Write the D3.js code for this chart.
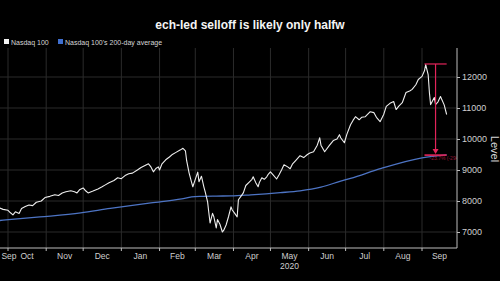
<!DOCTYPE html>
<html>
<head>
<meta charset="utf-8">
<script src="https://cdn.jsdelivr.net/npm/d3@7"></script>
<style>
  html, body { margin: 0; padding: 0; background: #000; }
  svg { display: block; font-family: "Liberation Sans", Arial, sans-serif; }
</style>
</head>
<body>
<div id="chart"></div>
<script>
var width = 500, height = 281;
var margin = {top: 48, right: 43, bottom: 33, left: 0};

// Nasdaq 100 (readings)
var ndxDates = ["2019-09-24","2019-09-27","2019-10-01","2019-10-03","2019-10-05","2019-10-07","2019-10-10",
  "2019-10-12","2019-10-15","2019-10-18","2019-10-21","2019-10-24","2019-10-28","2019-10-31","2019-11-04",
  "2019-11-08","2019-11-11","2019-11-14","2019-11-17","2019-11-21","2019-11-24","2019-11-26","2019-11-28",
  "2019-12-01","2019-12-03","2019-12-05","2019-12-09","2019-12-13","2019-12-16","2019-12-19","2019-12-22",
  "2019-12-26","2019-12-29","2020-01-01","2020-01-04","2020-01-07","2020-01-10","2020-01-14","2020-01-17",
  "2020-01-23","2020-01-25","2020-01-27","2020-01-29","2020-01-31","2020-02-01","2020-02-03","2020-02-06",
  "2020-02-09","2020-02-11","2020-02-14","2020-02-18","2020-02-20","2020-02-22","2020-02-23","2020-02-25",
  "2020-02-27","2020-02-28","2020-03-01","2020-03-03","2020-03-04","2020-03-06","2020-03-08","2020-03-09",
  "2020-03-11","2020-03-12","2020-03-13","2020-03-15","2020-03-16","2020-03-18","2020-03-19","2020-03-21",
  "2020-03-23","2020-03-24","2020-03-26","2020-03-28","2020-03-30","2020-03-31","2020-04-02","2020-04-04",
  "2020-04-05","2020-04-07","2020-04-09","2020-04-11","2020-04-14","2020-04-16","2020-04-17","2020-04-19",
  "2020-04-21","2020-04-22","2020-04-24","2020-04-26","2020-04-28","2020-04-29","2020-05-01","2020-05-03",
  "2020-05-06","2020-05-08","2020-05-10","2020-05-12","2020-05-15","2020-05-17","2020-05-19","2020-05-22",
  "2020-05-25","2020-05-28","2020-05-31","2020-06-02","2020-06-05","2020-06-08","2020-06-10","2020-06-11",
  "2020-06-14","2020-06-18","2020-06-21","2020-06-24","2020-06-26","2020-06-27","2020-06-30","2020-07-02",
  "2020-07-05","2020-07-07","2020-07-09","2020-07-12","2020-07-14","2020-07-17","2020-07-21","2020-07-24",
  "2020-07-26","2020-07-29","2020-08-01","2020-08-03","2020-08-06","2020-08-09","2020-08-11","2020-08-13",
  "2020-08-16","2020-08-19","2020-08-22","2020-08-24","2020-08-27","2020-08-29","2020-09-01","2020-09-03",
  "2020-09-04","2020-09-06","2020-09-07","2020-09-08","2020-09-11","2020-09-12","2020-09-14","2020-09-16",
  "2020-09-19","2020-09-21"];
var ndxValues = [7780,7730,7700,7620,7550,7650,7600,
  7760,7820,7870,7850,7960,8000,8110,8150,
  8200,8180,8260,8300,8330,8300,8260,8360,
  8420,8330,8260,8320,8390,8450,8520,8590,
  8660,8750,8720,8820,8880,8900,9000,9080,
  9200,9100,8940,9050,9100,9000,9200,9330,
  9420,9490,9560,9650,9700,9620,9300,8900,
  8600,8460,8700,8930,8620,8800,8450,8300,
  7970,7620,7290,7600,7500,7130,7400,7250,
  7000,7050,7225,7500,7810,7710,7600,7490,
  8040,8150,8260,8500,8620,8700,8780,8600,
  8460,8600,8750,8700,8780,8850,8940,8850,
  8710,8850,9000,9170,9100,9040,9200,9330,
  9460,9400,9500,9550,9590,9800,10040,9800,
  9590,9800,9950,10000,10140,10040,9880,10150,
  10460,10600,10720,10620,10700,10720,10880,10850,
  10700,10560,10800,11050,11150,11210,10950,11050,
  11170,11500,11550,11600,11750,11920,12020,12200,
  12400,12080,11500,11110,11340,11110,11200,11370,
  11100,10790];

// 200-day moving average
var maDates = ["2019-09-24","2019-10-27","2019-11-29","2019-12-23","2020-01-01","2020-01-25","2020-02-19",
  "2020-02-27","2020-03-06","2020-03-18","2020-03-30","2020-04-15","2020-05-09","2020-05-25","2020-06-11",
  "2020-06-27","2020-07-05","2020-07-30","2020-09-01","2020-09-21"];
var maValues = [7370,7485,7615,7760,7810,7940,8070,
  8130,8150,8160,8165,8200,8270,8330,8450,
  8640,8730,9050,9390,9490];

var yTicks = [7000, 8000, 9000, 10000, 11000, 12000];
var monthLabels = ["Sep","Oct","Nov","Dec","Jan","Feb","Mar","Apr","May","Jun","Jul","Aug","Sep"];
var yearLabel = "2020";

// peak-to-average annotation
var annotDates = ["2020-09-03", "2020-09-12", "2020-09-21"];
var annotValues = [12420, 9480];
var annotText = "-23.7% (-2940)";

var parse = d3.timeParse("%Y-%m-%d");
var ndx = ndxDates.map((d, i) => ({date: parse(d), value: ndxValues[i]}));
var ma = maDates.map((d, i) => ({date: parse(d), value: maValues[i]}));

var svg = d3.select("#chart").append("svg")
  .attr("width", width).attr("height", height);

svg.append("rect").attr("width", width).attr("height", height).attr("fill", "#000");

var plotW = width - margin.left - margin.right,
    plotH = height - margin.top - margin.bottom;

// calibrated so Oct 1 2019 and Sep 1 2020 land on their gridlines
var x = d3.scaleTime()
  .domain([new Date(2019, 9, 1), new Date(2020, 8, 1)])
  .range([8, 422]);
var y = d3.scaleLinear()
  .domain([7000, 12000])
  .range([232, 77]);

var x0 = x.invert(margin.left), x1 = x.invert(margin.left + plotW);

svg.append("clipPath").attr("id", "clip")
  .append("rect").attr("x", margin.left).attr("y", margin.top)
  .attr("width", plotW).attr("height", plotH);

var g = svg.append("g");

// gridlines
var months = d3.timeMonth.range(d3.timeMonth.ceil(x0), x1);
g.selectAll(".vgrid").data(months).enter().append("line")
  .attr("x1", d => x(d)).attr("x2", d => x(d))
  .attr("y1", margin.top).attr("y2", margin.top + plotH)
  .attr("stroke", "#2b2b2b").attr("stroke-width", 1);
g.selectAll(".hgrid").data(yTicks).enter().append("line")
  .attr("x1", margin.left).attr("x2", margin.left + plotW)
  .attr("y1", d => y(d)).attr("y2", d => y(d))
  .attr("stroke", "#2b2b2b").attr("stroke-width", 1);

var line = d3.line().x(d => x(d.date)).y(d => y(d.value));

var lines = g.append("g").attr("clip-path", "url(#clip)");
lines.append("path").datum(ma)
  .attr("d", line.curve(d3.curveMonotoneX))
  .attr("fill", "none").attr("stroke", "#4d74c4").attr("stroke-width", 1.3);
lines.append("path").datum(ndx)
  .attr("d", line.curve(d3.curveLinear))
  .attr("fill", "none").attr("stroke", "#eeeeee").attr("stroke-width", 1.1)
  .attr("stroke-linejoin", "round");

// annotation
var red = "#e3245a";
var aL = x(parse(annotDates[0])), aM = x(parse(annotDates[1])), aR = x(parse(annotDates[2]));
var yTop = y(annotValues[0]), yBot = y(annotValues[1]);
var ann = g.append("g").attr("clip-path", "url(#clip)");
ann.append("line").attr("x1", aL).attr("x2", aR).attr("y1", yTop).attr("y2", yTop)
  .attr("stroke", red).attr("stroke-width", 1.2);
ann.append("line").attr("x1", aM).attr("x2", aM).attr("y1", yTop).attr("y2", yBot - 4)
  .attr("stroke", red).attr("stroke-width", 1.2);
ann.append("path")
  .attr("d", `M${aM - 3},${yBot - 6}L${aM + 3},${yBot - 6}L${aM},${yBot - 1}Z`)
  .attr("fill", red);
ann.append("line").attr("x1", aL).attr("x2", aR).attr("y1", yBot).attr("y2", yBot)
  .attr("stroke", red).attr("stroke-width", 1.8).attr("opacity", 0.9);
ann.append("text").attr("x", aM - 6).attr("y", yBot + 5)
  .attr("fill", red).attr("opacity", 0.6).style("font-size", "5px")
  .text(annotText);

// axes
var axisColor = "#bdbdbd";
g.append("line").attr("x1", margin.left).attr("x2", margin.left + plotW)
  .attr("y1", margin.top + plotH).attr("y2", margin.top + plotH)
  .attr("stroke", axisColor).attr("stroke-width", 1);
g.append("line").attr("x1", margin.left + plotW).attr("x2", margin.left + plotW)
  .attr("y1", margin.top).attr("y2", margin.top + plotH)
  .attr("stroke", axisColor).attr("stroke-width", 1);

g.selectAll(".xtick").data(months).enter().append("line")
  .attr("x1", d => x(d)).attr("x2", d => x(d))
  .attr("y1", margin.top + plotH).attr("y2", margin.top + plotH + 3)
  .attr("stroke", axisColor);

var yAxis = d3.axisRight(y).tickValues(yTicks).tickSize(3).tickPadding(2).tickFormat(d3.format("d"));
var ya = g.append("g").attr("transform", `translate(${margin.left + plotW},0)`).call(yAxis);
ya.select(".domain").remove();
ya.selectAll("line").attr("stroke", axisColor);
ya.selectAll("text").attr("fill", "#cfcfcf").style("font-size", "9px")
  .style("font-family", "Liberation Sans, Arial, sans-serif");

svg.append("text")
  .attr("transform", `translate(${width - 9},${y(10000) + 10}) rotate(90)`)
  .attr("text-anchor", "middle").attr("fill", "#d8d8d8")
  .style("font-size", "11px").text("Level");

// month labels centred on the visible part of each month
var monthStarts = [d3.timeMonth.floor(x0)].concat(months);
var labelData = monthStarts.map((m, i) => {
  var a = Math.max(+m, +x0), b = Math.min(+d3.timeMonth.offset(m, 1), +x1);
  return {label: monthLabels[i], cx: x(new Date((a + b) / 2))};
});
svg.selectAll(".mlabel").data(labelData).enter().append("text")
  .attr("x", d => Math.max(d.cx, 9))
  .attr("y", margin.top + plotH + 11)
  .attr("text-anchor", "middle").attr("fill", "#cfcfcf")
  .style("font-size", "8.5px").text(d => d.label);
svg.append("text")
  .attr("x", labelData[8].cx).attr("y", margin.top + plotH + 21)
  .attr("text-anchor", "middle").attr("fill", "#cfcfcf")
  .style("font-size", "8.5px").text(yearLabel);

// title
svg.append("text").attr("x", 250).attr("y", 29).attr("text-anchor", "middle")
  .attr("fill", "#f4f4f4").style("font-size", "12px").style("font-weight", "bold")
  .text("ech-led selloff is likely only halfw");

// legend
var legend = [{name: "Nasdaq 100", color: "#f2f2f2", x: 4}, {name: "Nasdaq 100's 200-day average", color: "#3f6fcf", x: 58}];
var lg = svg.selectAll(".legend").data(legend).enter().append("g");
lg.append("rect").attr("x", d => d.x).attr("y", 39).attr("width", 5).attr("height", 5).attr("fill", d => d.color);
lg.append("text").attr("x", d => d.x + 7).attr("y", 44.5).attr("fill", "#d6d6d6")
  .style("font-size", "7px").text(d => d.name);
</script>
</body>
</html>
